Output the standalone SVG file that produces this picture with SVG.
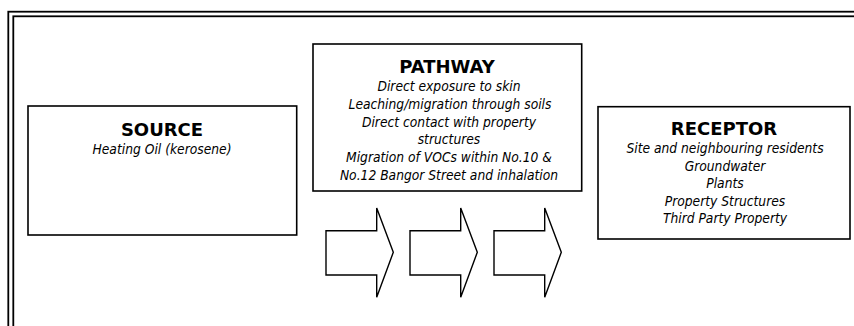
<svg xmlns="http://www.w3.org/2000/svg" width="854" height="326" viewBox="0 0 854 326">
<style>
.frame{fill:none;stroke:#000;stroke-width:1.8}
.box{fill:#fff;stroke:#000;stroke-width:1.6}
.arrow{fill:#fff;stroke:#000;stroke-width:1.4;stroke-linejoin:miter}
.title{font-family:"DejaVu Sans",Verdana,sans-serif;font-weight:bold;font-size:18px;text-anchor:middle;fill:#000}
.body{font-family:"DejaVu Sans Condensed","DejaVu Sans",sans-serif;font-style:italic;font-size:13.7px;text-anchor:middle;fill:#000}
</style>
<defs>
<polygon id="arr" points="0,0 50.7,0 50.7,-22.7 67.3,21.6 50.7,66.6 50.7,44.3 0,44.3"/>
</defs>
<rect width="854" height="326" fill="#fff"/>
<g id="frame">
<rect class="frame" x="8.3" y="11.7" width="900" height="400"/>
<rect class="frame" x="13.3" y="16.3" width="900" height="400"/>
</g>
<g id="source">
<rect class="box" x="28" y="106" width="268.7" height="129"/>
<text class="title" x="162" y="135.7">SOURCE</text>
<text class="body" x="162" y="154">Heating Oil (kerosene)</text>
</g>
<g id="pathway">
<rect class="box" x="313" y="44" width="268.7" height="147"/>
<text class="title" x="447" y="73.3">PATHWAY</text>
<text class="body" x="449" y="91">Direct exposure to skin</text>
<text class="body" x="450" y="108.8">Leaching/migration through soils</text>
<text class="body" x="449" y="126.6">Direct contact with property</text>
<text class="body" x="449" y="144.4">structures</text>
<text class="body" x="449" y="162.2">Migration of VOCs within No.10 &amp;</text>
<text class="body" x="449" y="180">No.12 Bangor Street and inhalation</text>
</g>
<g id="receptor">
<rect class="box" x="598" y="106.7" width="252" height="132.3"/>
<text class="title" x="724" y="135">RECEPTOR</text>
<text class="body" x="725" y="153">Site and neighbouring residents</text>
<text class="body" x="725" y="170.6">Groundwater</text>
<text class="body" x="725" y="188.2">Plants</text>
<text class="body" x="725" y="205.8">Property Structures</text>
<text class="body" x="725" y="223.4">Third Party Property</text>
</g>
<g id="connectors">
<use href="#arr" class="arrow" x="326" y="230.7"/>
<use href="#arr" class="arrow" x="410" y="230.7"/>
<use href="#arr" class="arrow" x="494" y="230.7"/>
</g>
</svg>
